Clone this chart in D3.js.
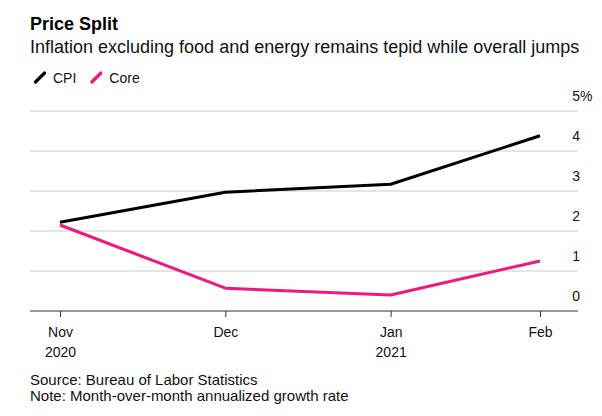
<!DOCTYPE html>
<html><head><meta charset="utf-8">
<script src="https://cdn.jsdelivr.net/npm/d3@7"></script>
<style>
body{margin:0;background:#fff;}
text{font-family:"Liberation Sans",Arial,Helvetica,sans-serif;}
</style></head>
<body><svg id="c" width="602" height="416"></svg>
<script>
const dates = ["2020-11-30","2020-12-31","2021-01-31","2021-02-28"];
const monthLabels = ["Nov","Dec","Jan","Feb"];
const yearLabels = ["2020","","2021",""];
const cpi = [2.22, 2.97, 3.17, 4.38];
const core = [2.15, 0.57, 0.4, 1.25];
const yTicks = [0,1,2,3,4,5];
const seriesNames = ["CPI","Core"];
const seriesColors = ["#000000","#f0177f"];

const svg = d3.select("#c");
const parse = d3.utcParse("%Y-%m-%d");
const dd = dates.map(parse);
const x = d3.scaleUtc().domain([dd[0], dd[3]]).range([60,540]);
const y = d3.scaleLinear().domain([0,5]).range([311,111]);
const left = 30, right = 578;

svg.append("text").attr("x",30).attr("y",30).attr("font-size",18).attr("font-weight","bold").text("Price Split");
svg.append("text").attr("x",30).attr("y",53).attr("font-size",18).attr("fill","#111").text("Inflation excluding food and energy remains tepid while overall jumps");

// legend
const lg = svg.append("g");
let lx = 34;
seriesNames.forEach((n,i)=>{
  lg.append("line").attr("x1",lx+1.5).attr("y1",82).attr("x2",lx+10.5).attr("y2",73).attr("stroke",seriesColors[i]).attr("stroke-width",3.2).attr("stroke-linecap","round");
  const t = lg.append("text").attr("x",lx+19).attr("y",83).attr("font-size",14).attr("fill","#111").text(n);
  lx += 19 + t.node().getComputedTextLength() + 14;
});

// gridlines + y labels
const g = svg.append("g");
yTicks.filter(v=>v>0).forEach(v=>{
  g.append("line").attr("x1",left).attr("x2",right).attr("y1",y(v)).attr("y2",y(v)).attr("stroke","#dcdcdc").attr("stroke-width",1.3);
});
yTicks.forEach(v=>{
  g.append("text").attr("x",580).attr("y",y(v)-10).attr("text-anchor","end").attr("font-size",14).attr("fill","#111").text(v);
  if(v===5) g.append("text").attr("x",580).attr("y",y(v)-10).attr("font-size",14).attr("fill","#111").text("%");
});

// x axis
const xa = svg.append("g").attr("transform","translate(0,311)")
  .call(d3.axisBottom(x).tickValues(dd).tickSize(6).tickFormat((d,i)=>monthLabels[i]));
xa.select(".domain").remove();
xa.insert("line",":first-child").attr("x1",left).attr("x2",right).attr("y1",0).attr("y2",0).attr("stroke","#333").attr("stroke-width",1.2);
xa.selectAll(".tick line").attr("stroke","#333");
xa.selectAll(".tick text").attr("font-size",14).attr("fill","#111").attr("y",16).attr("dy","0.71em").attr("font-family","Liberation Sans, Arial, sans-serif");
xa.selectAll(".tick").each(function(d,i){
  if(yearLabels[i]) d3.select(this).append("text").attr("y",36).attr("dy","0.71em").attr("text-anchor","middle").attr("font-size",14).attr("fill","#111").attr("font-family","Liberation Sans, Arial, sans-serif").text(yearLabels[i]);
});

// lines
const line = d3.line().x((d,i)=>x(dd[i])).y(d=>y(d));
[core, cpi].forEach((s,k)=>{
  const ci = k===0?1:0;
  svg.append("path").datum(s).attr("d",line).attr("fill","none").attr("stroke",seriesColors[ci]).attr("stroke-width",3).attr("stroke-linejoin","round");
});

svg.append("text").attr("x",30).attr("y",385).attr("font-size",15).attr("fill","#111").text("Source: Bureau of Labor Statistics");
svg.append("text").attr("x",30).attr("y",401).attr("font-size",15).attr("fill","#111").text("Note: Month-over-month annualized growth rate");
</script></body></html>
